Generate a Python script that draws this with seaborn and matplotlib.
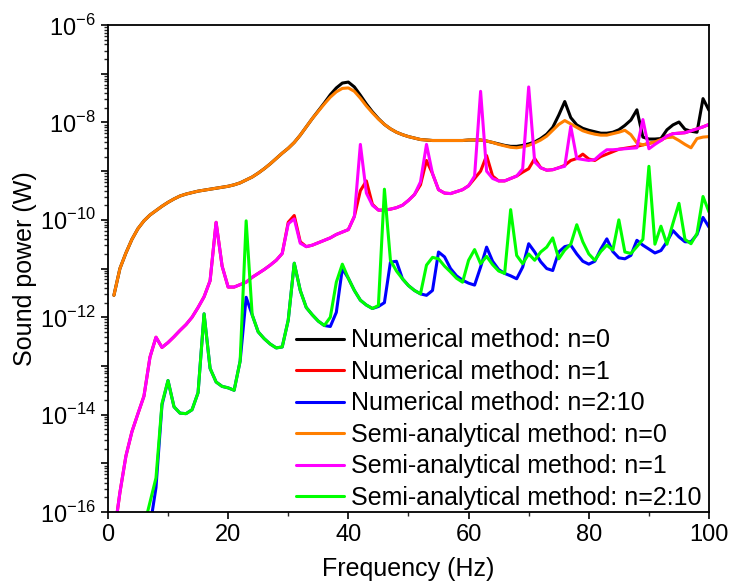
import numpy as np
import pandas as pd
import matplotlib
matplotlib.use('Agg')
import matplotlib.pyplot as plt
import matplotlib.ticker as mticker
import seaborn as sns

# frequency axis (Hz), one point per Hz
freq = list(range(1, 101))

# log10 of sound power (W)
num_n0 = [-11.55, -11.0, -10.68, -10.4, -10.18, -10.02, -9.9, -9.81, -9.72, -9.64,
          -9.57, -9.51, -9.47, -9.44, -9.41, -9.39, -9.37, -9.35, -9.33, -9.31,
          -9.28, -9.24, -9.18, -9.12, -9.04, -8.95, -8.85, -8.74, -8.63, -8.53,
          -8.41, -8.26, -8.09, -7.92, -7.76, -7.6, -7.43, -7.29, -7.19, -7.17,
          -7.27, -7.44, -7.62, -7.78, -7.92, -8.04, -8.13, -8.2, -8.25, -8.29,
          -8.32, -8.35, -8.36, -8.37, -8.37, -8.37, -8.37, -8.37, -8.37, -8.36,
          -8.36, -8.36, -8.38, -8.41, -8.44, -8.47, -8.49, -8.49, -8.47, -8.44,
          -8.4, -8.33, -8.24, -8.1, -7.85, -7.57, -7.9, -8.05, -8.12, -8.16,
          -8.19, -8.22, -8.22, -8.2, -8.15, -8.06, -7.95, -7.74, -8.3, -8.34,
          -8.34, -8.33, -8.15, -8.05, -7.99, -8.14, -8.18, -8.2, -7.51, -7.75]
num_n1 = [-16.5, -15.6, -14.85, -14.35, -13.98, -13.62, -12.82, -12.41, -12.62, -12.52,
          -12.4, -12.27, -12.15, -12.0, -11.8, -11.58, -11.25, -10.05, -10.95, -11.38,
          -11.38, -11.33, -11.28, -11.18, -11.1, -11.02, -10.93, -10.83, -10.69, -10.05,
          -9.91, -10.45, -10.55, -10.52, -10.47, -10.42, -10.37, -10.3, -10.25, -10.2,
          -9.93, -9.4, -9.2, -9.68, -9.8, -9.8, -9.78, -9.75, -9.7, -9.6,
          -9.48, -9.28, -8.78, -9.05, -9.38, -9.45, -9.46, -9.42, -9.38, -9.3,
          -9.15, -9.0, -8.68, -9.1, -9.2, -9.2, -9.15, -9.1, -9.02, -8.95,
          -8.74, -8.93, -8.98, -8.97, -8.93, -8.88, -8.78, -8.74, -8.65, -8.75,
          -8.78, -8.7, -8.65, -8.6, -8.55, -8.53, -8.51, -8.49, -8.46, -8.43,
          -8.4, -8.37, -8.28, -8.23, -8.22, -8.21, -8.17, -8.13, -8.09, -8.04]
num_n2 = [np.nan, np.nan, np.nan, np.nan, np.nan, np.nan, -16.3, -15.5, -13.8, -13.3,
          -13.84, -13.97, -13.98, -13.9, -13.55, -11.93, -13.05, -13.33, -13.42, -13.45,
          -13.5, -12.9, -11.59, -11.95, -12.3, -12.44, -12.55, -12.63, -12.61, -12.06,
          -10.89, -11.45, -11.8, -11.95, -12.08, -12.17, -12.19, -11.9, -11.0, -11.2,
          -11.45, -11.65, -11.75, -11.82, -11.78, -11.7, -10.87, -10.85, -11.21, -11.35,
          -11.45, -11.52, -11.55, -11.45, -10.66, -10.76, -11.0, -11.15, -11.24, -11.3,
          -11.34, -10.97, -10.56, -10.85, -11.02, -11.1, -11.15, -11.21, -10.97, -10.49,
          -10.66, -10.86, -11.0, -11.04, -10.66, -10.55, -10.52, -10.7, -10.85, -10.91,
          -10.85, -10.6, -10.39, -10.65, -10.78, -10.8, -10.73, -10.42, -10.52, -10.6,
          -10.68, -10.63, -10.45, -10.22, -10.35, -10.45, -10.45, -10.3, -9.95, -10.15]
semi_n0 = [-11.55, -11.0, -10.68, -10.4, -10.18, -10.02, -9.9, -9.81, -9.72, -9.64,
           -9.57, -9.51, -9.47, -9.44, -9.41, -9.39, -9.37, -9.35, -9.33, -9.31,
           -9.28, -9.24, -9.18, -9.12, -9.04, -8.95, -8.85, -8.74, -8.63, -8.53,
           -8.41, -8.26, -8.09, -7.92, -7.77, -7.62, -7.48, -7.37, -7.3, -7.29,
           -7.36, -7.5, -7.66, -7.8, -7.93, -8.04, -8.13, -8.2, -8.25, -8.29,
           -8.32, -8.35, -8.36, -8.37, -8.37, -8.37, -8.37, -8.37, -8.37, -8.36,
           -8.36, -8.36, -8.38, -8.41, -8.45, -8.48, -8.51, -8.52, -8.5, -8.47,
           -8.42, -8.36, -8.28, -8.16, -8.04, -7.96, -8.03, -8.1, -8.17, -8.21,
           -8.24, -8.26, -8.26, -8.23, -8.2, -8.16, -8.25, -8.42, -8.46, -8.43,
           -8.4, -8.35, -8.31, -8.3, -8.37, -8.45, -8.52, -8.33, -8.3, -8.29]
semi_n1 = [-16.5, -15.6, -14.85, -14.35, -13.98, -13.62, -12.82, -12.41, -12.62, -12.52,
           -12.4, -12.27, -12.15, -12.0, -11.8, -11.58, -11.25, -10.05, -10.95, -11.38,
           -11.38, -11.33, -11.28, -11.18, -11.1, -11.02, -10.93, -10.83, -10.69, -10.08,
           -9.98, -10.48, -10.55, -10.52, -10.47, -10.42, -10.37, -10.3, -10.25, -10.2,
           -9.93, -8.45, -9.45, -9.7, -9.8, -9.8, -9.78, -9.75, -9.7, -9.6,
           -9.48, -9.22, -8.45, -9.05, -9.38, -9.45, -9.46, -9.42, -9.38, -9.3,
           -9.1, -7.36, -9.0, -9.15, -9.2, -9.2, -9.15, -9.1, -8.95, -7.27,
           -8.81, -8.93, -8.98, -8.97, -8.93, -8.9, -8.08, -8.74, -8.76, -8.78,
           -8.76, -8.65, -8.56, -8.56, -8.55, -8.54, -8.53, -8.52, -7.94, -8.54,
           -8.45, -8.37, -8.28, -8.23, -8.22, -8.21, -8.17, -8.13, -8.09, -8.04]
semi_n2 = [np.nan, np.nan, np.nan, np.nan, np.nan, -16.3, -15.8, -15.3, -13.77, -13.3,
           -13.84, -13.97, -13.98, -13.9, -13.55, -11.93, -13.05, -13.33, -13.42, -13.45,
           -13.5, -12.9, -10.02, -11.95, -12.3, -12.44, -12.55, -12.63, -12.61, -12.06,
           -10.89, -11.45, -11.8, -11.95, -12.08, -12.17, -12.0, -11.28, -10.91, -11.2,
           -11.45, -11.65, -11.75, -11.82, -11.76, -9.37, -10.83, -11.05, -11.21, -11.35,
           -11.45, -11.52, -10.93, -10.77, -10.8, -10.95, -11.07, -11.2, -11.28, -10.83,
           -10.61, -10.9, -10.75, -10.92, -11.05, -11.1, -9.79, -10.73, -10.9, -10.7,
           -10.83, -10.66, -10.56, -10.37, -10.8, -10.62, -10.5, -10.1, -10.45, -10.7,
           -10.83, -10.65, -10.52, -10.62, -10.0, -10.66, -10.69, -10.55, -10.4, -8.9,
           -10.5, -10.13, -10.5, -10.07, -9.66, -10.4, -10.49, -10.28, -9.52, -9.84]

labels = ['Numerical method: n=0', 'Numerical method: n=1', 'Numerical method: n=2:10',
          'Semi-analytical method: n=0', 'Semi-analytical method: n=1',
          'Semi-analytical method: n=2:10']
colors = ['#000000', '#ff0000', '#0000ff', '#ff7f00', '#ff00ff', '#00ff00']
series = [num_n0, num_n1, num_n2, semi_n0, semi_n1, semi_n2]

frames = []
for lab, vals in zip(labels, series):
    frames.append(pd.DataFrame({'freq': freq, 'power': 10.0 ** np.array(vals), 'case': lab}))
df = pd.concat(frames, ignore_index=True).dropna()

sns.set_style('ticks')
plt.rcParams['font.family'] = ['Liberation Sans', 'DejaVu Sans']
plt.rcParams['mathtext.fontset'] = 'custom'
plt.rcParams['mathtext.rm'] = 'Liberation Sans'
plt.rcParams['text.color'] = 'black'
plt.rcParams['axes.labelcolor'] = 'black'

fig = plt.figure(figsize=(7.29, 5.84), dpi=100)
ax = fig.add_axes([0.148, 0.1233, 0.8246, 0.8337])

sns.lineplot(data=df, x='freq', y='power', hue='case', hue_order=labels,
             palette=dict(zip(labels, colors)), linewidth=2.2, ax=ax,
             estimator=None, sort=False)

ax.set_yscale('log')
ax.set_xlim(0, 100)
ax.set_ylim(1e-16, 1e-6)
ax.set_xticks([0, 20, 40, 60, 80, 100])
ax.xaxis.set_minor_locator(mticker.MultipleLocator(10))
ax.set_yticks([10.0 ** k for k in range(-16, -5)])
ax.yaxis.set_major_formatter(mticker.FuncFormatter(
    lambda v, p: r'$10^{%d}$' % round(np.log10(v)) if round(np.log10(v)) % 2 == 0 else ''))
ax.yaxis.set_minor_locator(mticker.LogLocator(base=10, subs=np.arange(2, 10), numticks=100))
ax.yaxis.set_minor_formatter(mticker.NullFormatter())

ax.tick_params(axis='both', which='major', direction='out', length=5, width=1.2,
               labelsize=17, colors='black')
ax.tick_params(axis='both', which='minor', direction='out', length=3, width=1)
for s in ax.spines.values():
    s.set_linewidth(1.3)
    s.set_color('black')

ax.set_xlabel('Frequency (Hz)', fontsize=18, labelpad=8, color='black')
ax.set_ylabel('Sound power (W)', fontsize=18, labelpad=2, color='black')

ax.legend(loc='upper left', bbox_to_anchor=(0.313, 0.377), frameon=False,
          fontsize=18, handlelength=1.9, handletextpad=0.3, labelspacing=0.3,
          borderpad=0, borderaxespad=0, title=None)

fig.savefig('out.png', dpi=100)
